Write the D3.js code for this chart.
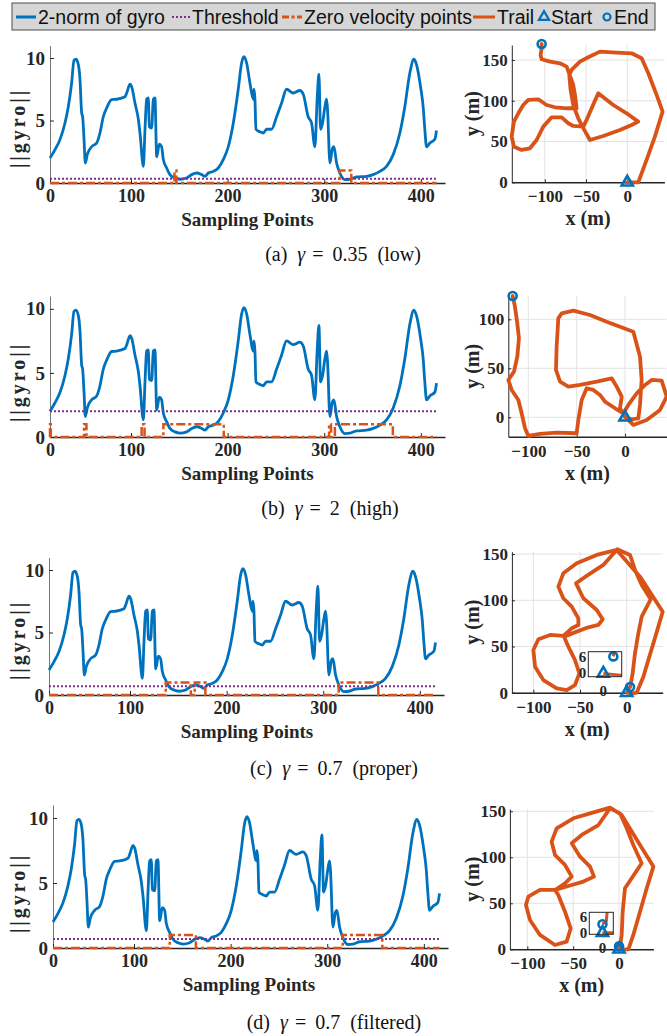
<!DOCTYPE html>
<html>
<head>
<meta charset="utf-8">
<script src="https://cdn.jsdelivr.net/npm/d3@7"></script>
<style>
body { margin: 0; background: #fff; }
text { white-space: pre; }
</style>
</head>
<body>
<svg id="fig" width="667" height="1036"></svg>
<script>
"use strict";

//
// Data
//

// [sample index, ||gyro||] - same signal in all four panels
var gyroPoints = [
    [0,2.0],[6.2,2.67],[12.3,3.47],[18.5,4.8],[22.6,6.1],[26.7,8.0],[29.6,9.8],[32.1,9.9],[35,9.47],[37,8.3],
    [39.1,5.6],[40.3,5.3],[42,3.5],[43.6,1.6],[46.1,2.3],[51.4,2.9],[57.6,3.2],[61.7,4.0],[65.8,5.3],[70,6.0],
    [76.1,6.67],[82.3,6.7],[92.6,6.9],[94.7,7.2],[98.8,7.9],[100.7,7.7],[104.1,6.4],[107.6,5.1],[109.3,4.0],[112.8,1.33],
    [114.5,4.3],[116.2,6.7],[117.9,6.8],[119,4.5],[121.4,4.4],[123.1,6.7],[124.8,6.8],[126.6,2.1],[129.3,3.1],[131.7,2.9],
    [133.4,1.9],[136.9,1.2],[140.3,0.67],[145.5,0.4],[150.7,0.3],[157.6,0.4],[162.8,0.67],[167.9,0.8],[173.1,0.67],[176.6,0.53],
    [180,0.8],[185.2,0.93],[190.3,1.2],[195.5,1.87],[200.7,2.9],[205.9,4.8],[211,7.5],[214.5,9.6],[216.9,10.1],[219.7,9.6],
    [223.1,8.0],[226.6,6.7],[227.2,7.5],[228.3,6.7],[229.3,4.3],[233.4,4.1],[236.9,4.0],[240.3,4.3],[245.5,4.3],[250.7,5.3],
    [255.9,6.4],[261,7.5],[267.9,7.2],[274.8,7.4],[278.3,7.1],[283.4,5.3],[286.9,4.8],[290.3,2.9],[292.8,6.9],[294.5,8.7],
    [296.2,4.3],[298.3,4.8],[300.7,6.1],[302.4,6.7],[303.4,5.9],[305.9,1.6],[308.3,2.7],[310,2.9],[312.8,1.6],[316.2,0.8],
    [321.4,0.27],[326.6,0.3],[333.4,0.48],[343.8,0.53],[350.7,0.67],[357.6,0.93],[364.5,1.33],[371.4,2.27],[378.3,4.0],[383.4,6.1],
    [388.6,8.8],[392.8,9.9],[395.5,9.47],[399.7,7.7],[402.4,6.1],[404.1,4.3],[405.9,2.9],[409.3,3.2],[414.5,3.5],[416.2,4.2]
];

var thresholds = [0.35, 2, 0.7, 0.7];

// intervals [from, to] where the zero velocity flag is 1
var zeroVelA = [[145,147],[316,328]];
var zeroVelB = [[0,1],[42,45],[111,114],[133.5,196],[305,307],[311,371]];
var zeroVelC = [[137,163],[167,178],[316,357]];
var zeroVelD = [[137,164],[316,357]];

// trails, [x (m), y (m)]
var trailA = [
    [0,0],[13.3,0],[23.4,27.4],[33.5,56],[42.8,86.7],[35.6,107.1],[25.5,133.7],[17.4,152.1],[5.3,158.2],[-12.9,159],
    [-33.1,160.3],[-47.3,153.3],[-57.4,148],[-67.5,137.8],[-70.3,131.6],[-68.7,113.2],[-65.5,94.8],[-59.4,78.5],[-52.5,65],[-45.3,51.9],
    [-29.1,56.8],[-8.9,64.2],[5.3,70.3],[13.3,74.4],[-0.8,84.6],[-17,94.8],[-35.2,109.2],[-43.2,90.8],[-49.3,76.5],[-53.3,68.3],
    [-65.5,69.1],[-71.5,72.4],[-79.6,79.7],[-91.7,79.7],[-101.8,68.3],[-109.9,51.9],[-118,41.7],[-128.1,39.7],[-137.4,43.7],[-140.2,56],
    [-137.4,74.4],[-132.1,84.6],[-126.1,94.8],[-120,101],[-107.9,101.8],[-97.8,94.8],[-87.7,92],[-73.5,90.8],[-61.4,90.8],[-63.4,107.1],
    [-65.5,119.4],[-73.5,141.9],[-81.6,146],[-93.7,148],[-103.8,150.9],[-105.1,156.2],[-103.8,164.3],[-103.8,169.7]
];
var trailB = [
    [0,0],[6.9,-2],[13.8,-1],[15.5,12.6],[17.2,38.1],[15.5,61.9],[8.6,87.4],[-19,97.6],[-36.2,104.4],[-53.4,108.8],
    [-65.5,106.1],[-69,101],[-70.7,72.1],[-71.4,48.3],[-67.2,36.4],[-58.6,31.3],[-46.6,33],[-29.3,36.4],[-13.8,39.8],[-8.6,31.3],
    [-3.4,21.1],[-5.2,9.2],[0,0.7],[8.6,-7.8],[22.4,-2.7],[36.2,7.5],[43.1,21.1],[37.9,37.4],[27.6,38.1],[20.7,33],
    [12.1,24.5],[3.4,12.6],[-1.7,4.1],[-10.3,9.2],[-20.7,16],[-25.9,22.8],[-32.8,27.9],[-39.7,29.6],[-44.8,17.7],[-48.3,-2.7],
    [-50,-16.3],[-70.7,-15.6],[-87.9,-17],[-100,-19],[-103.4,-11.2],[-106.9,4.1],[-110.3,17.7],[-117.2,27.9],[-120.7,38.1],[-114.8,46.6],
    [-111.4,61.9],[-109.7,80.6],[-111.4,95.9],[-113.8,112.9],[-116.2,123.8]
];
var trailC = [
    [0,0],[6,-0.7],[10.7,0],[17.9,17.3],[23.2,35.4],[28.6,53.4],[33.9,71.5],[38.6,87.7],[14.3,125.6],[-10.7,154.5],
    [-32.1,149.1],[-53.6,140.1],[-67.9,129.2],[-73.2,114.8],[-67.9,102.2],[-58.9,93.1],[-51.8,80.5],[-51.8,73.3],[-58.9,69.7],[-67.9,61.4],
    [-82.1,62.5],[-94.6,57.8],[-100,46.2],[-98.2,28.2],[-89.3,13.7],[-75,4.7],[-64.3,2.9],[-55.4,8.3],[-50.7,20.9],[-55.4,35.4],
    [-62.5,49.8],[-67.1,60.6],[-53.6,66.1],[-41.1,70.8],[-30.4,73.3],[-25.7,79.4],[-32.1,89.5],[-46.4,102.2],[-54.3,118.4],[-42.9,126.4],
    [-25,138.3],[-10,155.2],[3.6,149.1],[8.9,132.9],[16.1,116.6],[25.7,101.1],[16.1,82.3],[12.5,64.3],[8.9,42.6],[6.4,20.9],
    [4.3,9.4],[3.6,6.1]
];
var trailD = [
    [0,0],[10.2,0],[15.6,15.6],[22.9,40.9],[30.2,66.3],[37.5,89.9],[22.9,113.4],[2.9,146],[-9.8,154],[-31.6,147.8],
    [-49.8,142.4],[-68,131.5],[-73.5,117],[-69.8,102.5],[-58.9,91.7],[-51.6,79],[-58.9,71.7],[-69.8,64.5],[-86.2,64.5],[-98.9,57.2],
    [-101.5,48.2],[-97.1,31.9],[-86.2,15.6],[-69.8,4.7],[-57.1,8.3],[-52.7,22.8],[-58.9,40.9],[-66.2,59.1],[-69.8,64.5],[-51.6,69.9],
    [-38.9,73.6],[-27.3,79],[-31.6,89.9],[-42.5,100.7],[-51.6,115.2],[-40.7,124.3],[-22.5,135.1],[-9.8,153.3],[1.1,147.8],[8.4,131.5],
    [15.6,113.4],[24.7,93.5],[13.8,77.2],[6.5,66.3],[4,40.9],[2.9,15.6],[1.8,8],[1.5,4.5],[0,3.3]
];

var sampleTicks = [0, 100, 200, 300, 400];
var gyroTicks = [0, 5, 10];
var trailXTicks = [-100, -50, 0];
var trailYTicks = [[0, 50, 100, 150], [0, 50, 100], [0, 50, 100, 150], [0, 50, 100, 150]];
var insetXTicks = [0];
var insetYTicks = [0, 6];

var captionTags = ["(a)", "(b)", "(c)", "(d)"];
var gammaValues = ["0.35", "2", "0.7", "0.7"];
var captionNotes = ["(low)", "(high)", "(proper)", "(filtered)"];

var legendLabels = ["2-norm of gyro", "Threshold", "Zero velocity points", "Trail", "Start", "End"];


//
// Styles / layout
//

var BLUE = "#0072BD", ORANGE = "#D95319", PURPLE = "#7E2F8E", AXIS = "#262626";
var SERIF = "'Liberation Serif','Times New Roman',Times,serif";
var SANS = "'Liberation Sans',Arial,Helvetica,sans-serif";

var gyroLayout = [
    { left: 50, zero: 183, top: 45.5 },
    { left: 50, zero: 437, top: 296 },
    { left: 49, zero: 695, top: 557.5 },
    { left: 53, zero: 948, top: 805 }
];

var trailLayout = [
    { xd: [-140, 45], xr: [511.8, 664.4], yd: [0, 168.4], yr: [182.3, 45] },
    { xd: [-120.7, 43], xr: [508.3, 666.6], yd: [-19.8, 123.8], yr: [436.7, 296] },
    { xd: [-123, 38.6], xr: [511.9, 662.7], yd: [0, 152.6], yr: [692.7, 551.7],
      inset: { x: 588.3, y: 651.7, w: 33.4, h: 25, xd: [-5.4, 6.6], yd: [-1.2, 7.8] } },
    { xd: [-119, 37.5], xr: [509.9, 653.4], yd: [0, 152.5], yr: [949.3, 809],
      inset: { x: 589.3, y: 912.3, w: 24, h: 22, xd: [-5.1, 4.2], yd: [-0.6, 7.9] } }
];

var captionPos = [[343, 261], [330, 515], [334, 775], [334, 1029]];

var svg = d3.select("#fig");
var zeroVelSets = [zeroVelA, zeroVelB, zeroVelC, zeroVelD];
var trails = [trailA, trailB, trailC, trailD];


function zeroVelSteps (intervals, xEnd) {
    var pts = [[0, 0]];
    intervals.forEach(function (iv) {
        pts.push([iv[0], 0], [iv[0], 1], [iv[1], 1], [iv[1], 0]);
    });
    pts.push([xEnd, 0]);
    return pts;
}

function styleAxis (g, size) {
    g.attr("font-family", SERIF).attr("font-size", size).attr("font-weight", "bold");
    g.selectAll("text").attr("fill", AXIS);
    g.selectAll("line").attr("stroke", AXIS);
    g.select(".domain").attr("stroke", AXIS);
}


//
// Left panels: ||gyro|| over sampling points
//

function drawGyroPanel (i) {

    var lay = gyroLayout[i];
    var x = d3.scaleLinear().domain([0, 100, 425]).range([lay.left, lay.left + 81, lay.left + 395]);
    var y = d3.scaleLinear().domain([0, 11]).range([lay.zero, lay.top]);
    var g = svg.append("g");
    var xEnd = gyroPoints[gyroPoints.length - 1][0];

    var line = d3.line().x(function (d) { return x(d[0]); }).y(function (d) { return y(d[1]); });

    // axes
    var ya = g.append("g").attr("transform", "translate(" + lay.left + ",0)")
        .call(d3.axisLeft(y).tickValues(gyroTicks).tickSizeInner(-4).tickSizeOuter(0).tickPadding(5));
    styleAxis(ya, 19);
    ya.select(".domain").attr("stroke", "#777");

    var xa = g.append("g").attr("transform", "translate(0," + lay.zero + ")")
        .call(d3.axisBottom(x).tickValues(sampleTicks).tickSizeInner(-4).tickSizeOuter(0).tickPadding(6));
    styleAxis(xa, 18);
    xa.select(".domain").attr("stroke-width", 1.5);

    // series
    g.append("path").datum(gyroPoints)
        .attr("d", line.curve(d3.curveMonotoneX))
        .attr("fill", "none").attr("stroke", BLUE).attr("stroke-width", 2.8);

    g.append("path").datum([[0, thresholds[i]], [xEnd, thresholds[i]]])
        .attr("d", line.curve(d3.curveLinear))
        .attr("fill", "none").attr("stroke", PURPLE).attr("stroke-width", 2)
        .attr("stroke-dasharray", "2,2");

    g.append("path").datum(zeroVelSteps(zeroVelSets[i], xEnd))
        .attr("d", line.curve(d3.curveLinear))
        .attr("fill", "none").attr("stroke", ORANGE).attr("stroke-width", 2.5)
        .attr("stroke-dasharray", "9,3,3,3");

    // labels
    g.append("text").attr("x", (lay.left + 445) / 2).attr("y", lay.zero + 43)
        .attr("text-anchor", "middle").attr("font-family", SERIF).attr("font-weight", "bold")
        .attr("font-size", 19).attr("fill", AXIS).text("Sampling Points");

    g.append("text").attr("transform", "translate(25," + (lay.zero - 55) + ") rotate(-90)")
        .attr("text-anchor", "middle").attr("font-family", SERIF).attr("font-weight", "bold")
        .attr("font-size", 20).attr("letter-spacing", 3).attr("fill", AXIS).text("||gyro||");
}


//
// Right panels: trails
//

function drawMarkers (g, x, y, pts) {
    var s = pts[0], e = pts[pts.length - 1];
    g.append("path").attr("d", d3.symbol(d3.symbolTriangle, 55)())
        .attr("transform", "translate(" + x(s[0]) + "," + y(s[1]) + ")")
        .attr("fill", "none").attr("stroke", BLUE).attr("stroke-width", 2.6);
    g.append("circle").attr("cx", x(e[0])).attr("cy", y(e[1])).attr("r", 4)
        .attr("fill", "none").attr("stroke", BLUE).attr("stroke-width", 2.6);
}

function drawTrailPanel (i) {

    var lay = trailLayout[i];
    var x = d3.scaleLinear().domain(lay.xd).range(lay.xr);
    var y = d3.scaleLinear().domain(lay.yd).range(lay.yr);
    var g = svg.append("g");
    var yTicks = trailYTicks[i];

    // grid
    g.selectAll(".gx").data(trailXTicks).enter().append("line")
        .attr("x1", x).attr("x2", x).attr("y1", lay.yr[0]).attr("y2", lay.yr[1])
        .attr("stroke", "#e3e3e3").attr("stroke-width", 1);
    g.selectAll(".gy").data(yTicks).enter().append("line")
        .attr("x1", lay.xr[0]).attr("x2", lay.xr[1]).attr("y1", y).attr("y2", y)
        .attr("stroke", "#e3e3e3").attr("stroke-width", 1);

    // axes
    var ya = g.append("g").attr("transform", "translate(" + lay.xr[0] + ",0)")
        .call(d3.axisLeft(y).tickValues(yTicks).tickSizeInner(-3).tickSizeOuter(0).tickPadding(4));
    styleAxis(ya, 17);
    var xa = g.append("g").attr("transform", "translate(0," + lay.yr[0] + ")")
        .call(d3.axisBottom(x).tickValues(trailXTicks).tickSizeInner(-3).tickSizeOuter(0).tickPadding(8)
            .tickFormat(d3.format("d")));
    styleAxis(xa, 17);
    xa.select(".domain").attr("stroke-width", 1.5);

    // trail
    var line = d3.line().x(function (d) { return x(d[0]); }).y(function (d) { return y(d[1]); });
    g.append("path").datum(trails[i]).attr("d", line)
        .attr("fill", "none").attr("stroke", ORANGE).attr("stroke-width", 3.8)
        .attr("stroke-linejoin", "round").attr("stroke-linecap", "round");

    drawMarkers(g, x, y, trails[i]);

    // labels
    g.append("text").attr("x", (lay.xr[0] + lay.xr[1]) / 2).attr("y", lay.yr[0] + 43)
        .attr("text-anchor", "middle").attr("font-family", SERIF).attr("font-weight", "bold")
        .attr("font-size", 20).attr("fill", AXIS).text("x (m)");
    g.append("text").attr("transform", "translate(479," + ((lay.yr[0] + lay.yr[1]) / 2) + ") rotate(-90)")
        .attr("text-anchor", "middle").attr("font-family", SERIF).attr("font-weight", "bold")
        .attr("font-size", 20).attr("fill", AXIS).text("y (m)");

    if (lay.inset) { drawInset(i, lay.inset); }
}

function drawInset (i, box) {

    var x = d3.scaleLinear().domain(box.xd).range([box.x, box.x + box.w]);
    var y = d3.scaleLinear().domain(box.yd).range([box.y + box.h, box.y]);
    var g = svg.append("g");
    var clipId = "inset" + i;

    g.append("clipPath").attr("id", clipId).append("rect")
        .attr("x", box.x).attr("y", box.y).attr("width", box.w).attr("height", box.h);
    g.append("rect").attr("x", box.x).attr("y", box.y).attr("width", box.w).attr("height", box.h)
        .attr("fill", "#fff").attr("stroke", "none");

    var line = d3.line().x(function (d) { return x(d[0]); }).y(function (d) { return y(d[1]); });
    g.append("path").datum(trails[i]).attr("d", line).attr("clip-path", "url(#" + clipId + ")")
        .attr("fill", "none").attr("stroke", ORANGE).attr("stroke-width", 3)
        .attr("stroke-linejoin", "round");

    drawMarkers(g, x, y, trails[i]);

    g.append("rect").attr("x", box.x).attr("y", box.y).attr("width", box.w).attr("height", box.h)
        .attr("fill", "none").attr("stroke", AXIS).attr("stroke-width", 1);

    g.selectAll(".iy").data(insetYTicks).enter().append("text")
        .attr("x", box.x - 2).attr("y", function (d) { return y(d) + 5; })
        .attr("text-anchor", "end").attr("font-family", SERIF).attr("font-weight", "bold")
        .attr("font-size", 15).attr("fill", AXIS).text(function (d) { return d; });
    g.selectAll(".ix").data(insetXTicks).enter().append("text")
        .attr("x", function (d) { return x(d); }).attr("y", box.y + box.h + 19)
        .attr("text-anchor", "middle").attr("font-family", SERIF).attr("font-weight", "bold")
        .attr("font-size", 15).attr("fill", AXIS).text(function (d) { return d; });
}


//
// Captions
//

function drawCaption (i) {
    var t = svg.append("text").attr("x", captionPos[i][0]).attr("y", captionPos[i][1])
        .attr("text-anchor", "middle").attr("font-family", SERIF).attr("font-size", 20).attr("fill", "#111");
    t.append("tspan").text(captionTags[i]);
    t.append("tspan").attr("dx", 10).attr("font-style", "italic").text("γ");
    t.append("tspan").attr("dx", 7).text("=");
    t.append("tspan").attr("dx", 9).text(gammaValues[i]);
    t.append("tspan").attr("dx", 10).text(captionNotes[i]);
}


//
// Legend
//

function drawLegend () {

    var g = svg.append("g");
    var cy = 17;
    var textX = [38, 192, 304, 497, 551, 614];

    g.append("rect").attr("x", 12).attr("y", 3).attr("width", 643).attr("height", 27)
        .attr("fill", "#d6d6d6").attr("stroke", "#4d4d4d").attr("stroke-width", 1);

    g.append("line").attr("x1", 16).attr("x2", 36).attr("y1", cy).attr("y2", cy)
        .attr("stroke", BLUE).attr("stroke-width", 3);
    g.append("line").attr("x1", 172).attr("x2", 190).attr("y1", cy).attr("y2", cy)
        .attr("stroke", PURPLE).attr("stroke-width", 2).attr("stroke-dasharray", "2,2");
    g.append("line").attr("x1", 282).attr("x2", 302).attr("y1", cy).attr("y2", cy)
        .attr("stroke", ORANGE).attr("stroke-width", 3).attr("stroke-dasharray", "7,2.5,3,2.5");
    g.append("line").attr("x1", 473).attr("x2", 495).attr("y1", cy).attr("y2", cy)
        .attr("stroke", ORANGE).attr("stroke-width", 3);
    g.append("path").attr("d", d3.symbol(d3.symbolTriangle, 45)())
        .attr("transform", "translate(544," + cy + ")")
        .attr("fill", "none").attr("stroke", BLUE).attr("stroke-width", 2.2);
    g.append("circle").attr("cx", 607).attr("cy", cy).attr("r", 3.5)
        .attr("fill", "none").attr("stroke", BLUE).attr("stroke-width", 2.2);

    g.selectAll(".lt").data(legendLabels).enter().append("text")
        .attr("x", function (d, k) { return textX[k]; }).attr("y", cy + 7)
        .attr("font-family", SANS).attr("font-size", 19.5).attr("fill", "#111")
        .text(function (d) { return d; });
}


[0, 1, 2, 3].forEach(function (i) {
    drawGyroPanel(i);
    drawTrailPanel(i);
    drawCaption(i);
});
drawLegend();
</script>
</body>
</html>
